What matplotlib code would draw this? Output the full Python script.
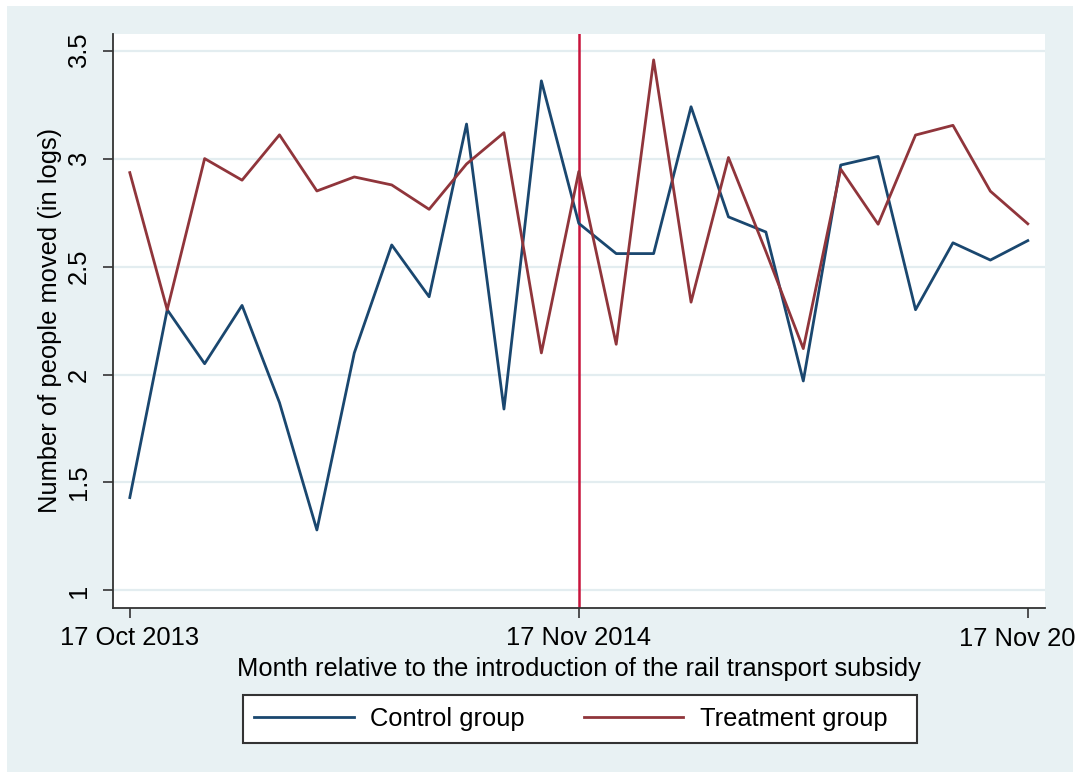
import matplotlib
matplotlib.use("Agg")
import matplotlib.pyplot as plt
from matplotlib.patches import Rectangle
from matplotlib.lines import Line2D

# ---- data ----
months = list(range(25))
control = [1.43, 2.30, 2.05, 2.32, 1.87, 1.28, 2.10, 2.60, 2.36, 3.16, 1.84, 3.36,
           2.70, 2.56, 2.56, 3.24, 2.73, 2.66, 1.97, 2.97, 3.01, 2.30, 2.61, 2.53, 2.62]
treatment = [2.935, 2.30, 3.00, 2.90, 3.11, 2.85, 2.915, 2.878, 2.765, 2.975, 3.12, 2.10,
             2.94, 2.14, 3.457, 2.335, 3.005, 2.57, 2.12, 2.951, 2.696, 3.109, 3.154, 2.849, 2.698]
subsidy_month = 12
xtick_pos = [0, 12, 24]
xtick_labels = ["17 Oct 2013", "17 Nov 2014", "17 Nov 20"]
ytick_pos = [1, 1.5, 2, 2.5, 3, 3.5]
ytick_labels = ["1", "1.5", "2", "2.5", "3", "3.5"]
series_names = ["Control group", "Treatment group"]

# ---- style ----
plt.rcParams['font.family'] = ['Liberation Sans', 'DejaVu Sans']
FS = 18.4
W, H = 1077, 778
c_control = '#1a476f'
c_treat = '#90353b'
c_red = '#c8143c'
bg = '#e8f1f3'
grid_c = '#e3edf0'
dark = '#333333'

fig = plt.figure(figsize=(W / 100, H / 100), dpi=100)
fig.patch.set_facecolor('white')

def px(x0, y0, x1, y1):
    return (x0 / W, 1 - y1 / H, (x1 - x0) / W, (y1 - y0) / H)

# outer graph region
r = px(7, 6, 1073, 772)
fig.add_artist(Rectangle((r[0], r[1]), r[2], r[3], transform=fig.transFigure,
                         facecolor=bg, edgecolor='none', zorder=-10))

ax = fig.add_axes(px(112.7, 34, 1045, 607.7))
ax.set_facecolor('white')

ax.axvline(subsidy_month, color=c_red, lw=1.8, zorder=1.5)
ax.plot(months, control, color=c_control, lw=2.0, zorder=3, label=series_names[0])
ax.plot(months, treatment, color=c_treat, lw=2.0, zorder=3, label=series_names[1])

ax.set_xlim(-0.457, 24.46)
ax.set_ylim(0.920, 3.577)

ax.set_yticks(ytick_pos)
ax.set_yticklabels(ytick_labels, rotation=90, va='center', fontsize=FS)
ax.set_xticks(xtick_pos)
# the last label is cut at the graph edge in the reference: draw it separately
ax.set_xticklabels(xtick_labels[:-1] + [""], fontsize=FS)
ax.annotate(xtick_labels[-1], xy=(xtick_pos[-1], 0), xycoords=('data', 'axes fraction'),
            xytext=(-69, -19), textcoords='offset pixels', ha='left', va='top',
            fontsize=FS, annotation_clip=False)

ax.grid(axis='y', color=grid_c, lw=1.6, zorder=0)
ax.grid(axis='x', visible=False)
ax.set_axisbelow(True)

for s in ['top', 'right']:
    ax.spines[s].set_visible(False)
for s in ['left', 'bottom']:
    ax.spines[s].set_color(dark)
    ax.spines[s].set_linewidth(1.3)
ax.tick_params(axis='both', direction='out', length=7.5, width=1.2, color=dark,
               labelcolor='black')
ax.tick_params(axis='y', pad=8)
ax.tick_params(axis='x', pad=6)

ax.set_xlabel("Month relative to the introduction of the rail transport subsidy",
              fontsize=FS, labelpad=5)
ax.set_ylabel("Number of people moved (in logs)", fontsize=FS, labelpad=4)

# legend box
lb = px(243, 695, 917, 743)
fig.add_artist(Rectangle((lb[0], lb[1]), lb[2], lb[3], transform=fig.transFigure,
                         facecolor='white', edgecolor=dark, lw=1.5, zorder=5))
handles = [Line2D([], [], color=c_control, lw=2.0), Line2D([], [], color=c_treat, lw=2.0)]
leg = fig.legend(handles, series_names, loc='center left',
                 bbox_to_anchor=(254 / W, 1 - 719 / H), ncol=2, frameon=False,
                 fontsize=FS, handlelength=3.9, handletextpad=0.65, columnspacing=2.3,
                 borderpad=0, borderaxespad=0)
leg.set_zorder(6)

fig.savefig("out.png", dpi=100, facecolor='white')
